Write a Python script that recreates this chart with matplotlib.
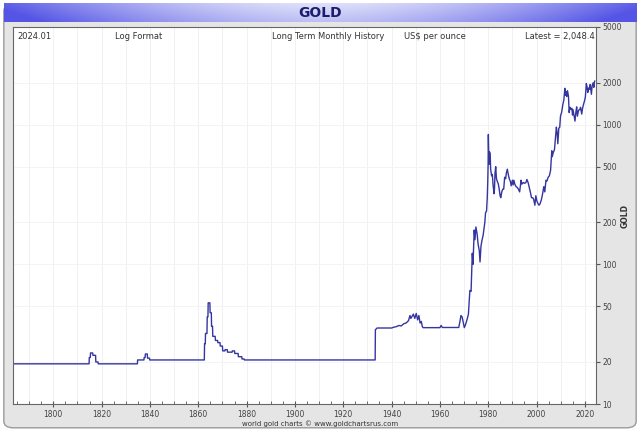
import numpy as np
import matplotlib.pyplot as plt
from matplotlib.patches import FancyBboxPatch
from matplotlib.ticker import FixedLocator, NullFormatter

# monthly-ish gold price history, US$ per ounce
years = [1784, 1814.8, 1814.9, 1815.3, 1815.4, 1816.3, 1816.4, 1817.5, 1817.6, 1818.5, 1818.6,
         1834.8, 1834.9, 1837.5, 1837.6, 1838.0, 1838.1, 1838.9, 1839.0, 1839.8, 1839.9,
         1862.5, 1862.6, 1862.9, 1863.0, 1863.6, 1863.7, 1864.0, 1864.1, 1864.8, 1864.9,
         1865.4, 1865.5, 1865.9, 1866.0, 1867.0, 1867.1, 1868.0, 1868.1, 1869.0, 1869.1,
         1870.0, 1870.1, 1871.0, 1871.1, 1872.0, 1872.1, 1874.0, 1874.1, 1875.0, 1875.1,
         1876.5, 1876.6, 1878.0, 1878.1, 1879.0, 1879.1,
         1933.2, 1933.3, 1934.0, 1940.0, 1941.0, 1942.0, 1943.0, 1944.0, 1945.0, 1946.0,
         1947.0, 1947.6, 1948.0, 1949.0, 1949.6, 1950.2, 1950.8, 1951.3, 1951.8, 1952.3,
         1952.7, 1953.0, 1960.0, 1960.5, 1961.0, 1967.8, 1968.3, 1968.7, 1969.2, 1969.7,
         1970.1, 1970.6, 1971.2, 1971.8, 1972.4, 1972.9, 1973.4, 1973.7, 1974.2, 1974.5,
         1974.9, 1975.4, 1975.8, 1976.3, 1976.6, 1977.0, 1977.4, 1977.9, 1978.6, 1978.9,
         1979.3, 1979.6, 1979.8, 1979.95, 1980.05, 1980.2, 1980.3, 1980.5, 1980.8, 1981.0,
         1981.4, 1981.7, 1982.0, 1982.4, 1982.6, 1982.8, 1983.1, 1983.4, 1983.8, 1984.1,
         1984.5, 1984.9, 1985.2, 1985.6, 1986.0, 1986.4, 1986.8, 1987.2, 1987.5, 1987.9,
         1988.3, 1988.7, 1989.2, 1989.5, 1990.0, 1990.3, 1990.6, 1991.0, 1991.5, 1992.0,
         1992.5, 1993.0, 1993.6, 1993.9, 1994.5, 1995.0, 1995.6, 1996.0, 1996.5, 1997.0,
         1997.5, 1997.9, 1998.4, 1998.8, 1999.3, 1999.7, 2000.1, 2000.6, 2001.0, 2001.4,
         2002.0, 2002.5, 2003.0, 2003.4, 2003.9, 2004.3, 2004.8, 2005.3, 2005.8, 2006.3,
         2006.5, 2006.9, 2007.4, 2007.8, 2008.2, 2008.5, 2008.8, 2009.2, 2009.6, 2009.9,
         2010.4, 2010.9, 2011.3, 2011.7, 2011.9, 2012.2, 2012.5, 2012.8, 2013.2, 2013.5,
         2013.8, 2014.2, 2014.6, 2014.9, 2015.1, 2015.5, 2015.9, 2016.3, 2016.6, 2016.9,
         2017.4, 2017.9, 2018.2, 2018.7, 2019.0, 2019.5, 2019.9, 2020.2, 2020.6, 2020.9,
         2021.2, 2021.5, 2021.9, 2022.2, 2022.7, 2023.0, 2023.4, 2023.7, 2023.9, 2024.05]
prices = [19.39, 19.39, 21.5, 21.5, 23.2, 23.2, 22.3, 22.3, 20.0, 20.0, 19.39,
          19.39, 20.67, 20.67, 21.5, 21.5, 22.8, 22.8, 21.3, 21.3, 20.67,
          20.67, 27.0, 27.0, 32.0, 32.0, 42.0, 42.0, 53.0, 53.0, 45.0,
          45.0, 36.0, 36.0, 30.5, 30.5, 28.5, 28.5, 27.5, 27.5, 26.0,
          26.0, 24.0, 24.0, 24.5, 24.5, 23.5, 23.5, 24.0, 24.0, 23.0,
          23.0, 21.8, 21.8, 21.0, 21.0, 20.67,
          20.67, 34.0, 35.0, 35.0, 35.5, 35.8, 36.5, 36.2, 37.5, 38.0,
          39.5, 43.0, 41.0, 44.0, 41.0, 44.5, 40.0, 43.0, 38.0, 39.0,
          36.0, 35.2, 35.2, 36.5, 35.3, 35.3, 39.0, 43.0, 42.0, 38.0,
          35.2, 37.0, 40.0, 44.0, 65.0, 64.0, 120.0, 100.0, 176.0, 150.0,
          185.0, 165.0, 140.0, 125.0, 104.0, 135.0, 148.0, 162.0, 200.0, 235.0,
          240.0, 300.0, 390.0, 520.0, 850.0, 600.0, 520.0, 640.0, 620.0, 480.0,
          430.0, 440.0, 370.0, 320.0, 350.0, 450.0, 500.0, 410.0, 390.0, 380.0,
          350.0, 310.0, 300.0, 330.0, 345.0, 345.0, 420.0, 410.0, 450.0, 480.0,
          440.0, 410.0, 390.0, 365.0, 400.0, 370.0, 400.0, 375.0, 360.0, 355.0,
          345.0, 330.0, 400.0, 375.0, 385.0, 380.0, 385.0, 405.0, 385.0, 355.0,
          325.0, 300.0, 300.0, 292.0, 265.0, 310.0, 285.0, 272.0, 265.0, 270.0,
          290.0, 320.0, 360.0, 330.0, 400.0, 395.0, 420.0, 430.0, 470.0, 650.0,
          590.0, 630.0, 660.0, 790.0, 960.0, 880.0, 730.0, 940.0, 960.0, 1150.0,
          1230.0, 1400.0, 1500.0, 1820.0, 1620.0, 1720.0, 1590.0, 1750.0, 1600.0, 1220.0,
          1330.0, 1290.0, 1310.0, 1170.0, 1280.0, 1170.0, 1060.0, 1240.0, 1340.0, 1150.0,
          1270.0, 1280.0, 1330.0, 1190.0, 1300.0, 1410.0, 1490.0, 1580.0, 1970.0, 1860.0,
          1700.0, 1830.0, 1790.0, 1940.0, 1650.0, 1900.0, 1990.0, 1850.0, 1990.0, 2048.4]

x_ticks = [1800, 1820, 1840, 1860, 1880, 1900, 1920, 1940, 1960, 1980, 2000, 2020]
y_ticks = [10, 20, 50, 100, 200, 500, 1000, 2000, 5000]
header = [("2024.01", 0.008), ("Log Format", 0.175), ("Long Term Monthly History", 0.445),
          ("US$ per ounce", 0.670), ("Latest = 2,048.4", 0.879)]

fig = plt.figure(figsize=(6.4, 4.33), dpi=100, facecolor='white')

# grey rounded panel behind everything (own axes at the bottom of the stack)
bg = fig.add_axes([0, 0, 1, 1], zorder=-5)
bg.set_axis_off()
bg.set_xlim(0, 1)
bg.set_ylim(0, 1)
bg.add_patch(FancyBboxPatch((0.006, 0.012), 0.988, 0.978,
                            boxstyle="round,pad=0,rounding_size=0.015",
                            facecolor='#e5e5e5', edgecolor='#9a9a9a', linewidth=1.0))

# blue gradient title band
band = fig.add_axes([0.006, 1 - 22 / 433, 0.988, 19 / 433], zorder=1)
gx = np.abs(np.linspace(-1, 1, 300))
gy = np.linspace(0, 1, 20)[:, None]
strength = np.clip(gx ** 1.6 * 0.9 + gy * 0.25, 0, 1)
light = np.array([0.88, 0.89, 0.98])
dark = np.array([0.33, 0.33, 0.90])
img = light[None, None, :] * (1 - strength[..., None]) + dark[None, None, :] * strength[..., None]
band.imshow(img, aspect='auto', extent=[0, 1, 0, 1])
band.set_axis_off()
band.text(0.5, 0.45, "GOLD", ha='center', va='center', fontsize=10, fontweight='bold',
          color='#1c1c6e')

ax = fig.add_axes([12.7 / 640, 1 - 404 / 433, (596 - 12.7) / 640, (404 - 27) / 433], zorder=2)
ax.set_facecolor('white')
ax.plot(years, prices, color='#3535a0', linewidth=1.0)
ax.set_yscale('log')
ax.set_xlim(1783.2, 2024.6)
ax.set_ylim(10, 5000)

ax.yaxis.tick_right()
ax.yaxis.set_major_locator(FixedLocator(y_ticks))
ax.yaxis.set_minor_locator(FixedLocator([]))
ax.yaxis.set_minor_formatter(NullFormatter())
ax.set_yticklabels([str(v) for v in y_ticks])
ax.set_xticks(x_ticks)
ax.set_xticks(np.arange(1785, 2025, 5), minor=True)
ax.tick_params(axis='y', which='major', direction='out', length=3, labelsize=5.5,
               labelcolor='#444444', color='#555555', pad=1.5)
ax.tick_params(axis='x', which='major', direction='inout', length=4, labelsize=5.5,
               labelcolor='#444444', color='#555555', pad=2)
ax.tick_params(axis='x', which='minor', direction='in', length=2, color='#555555')
for s in ax.spines.values():
    s.set_color('#666666')
    s.set_linewidth(0.8)

for yr in range(1790, 2030, 10):
    ax.axvline(yr, color='#efeff4', linewidth=0.6, zorder=0)
for v in y_ticks[1:-1]:
    ax.axhline(v, color='#f3f3f3', linewidth=0.6, zorder=0)

for txt, xpos in header:
    ax.text(xpos, 0.988, txt, transform=ax.transAxes, ha='left', va='top', fontsize=6,
            color='#333333')

fig.text(0.977, 0.5, "GOLD", rotation=90, ha='center', va='center', fontsize=5.5,
         fontweight='bold', color='#333333')
fig.text(0.5, 1 - 423.5 / 433, "world gold charts \u00a9 www.goldchartsrus.com", ha='center',
         va='center', fontsize=5, color='#333333')

fig.savefig('out.png', dpi=100, facecolor='white')
